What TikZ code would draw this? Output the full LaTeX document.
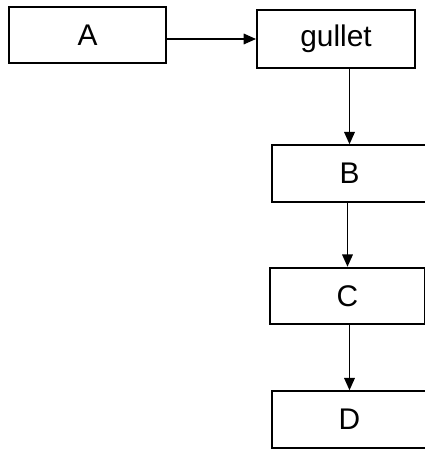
\documentclass[tikz,border=0pt]{standalone}
\usepackage{fontspec}
\setmainfont{Liberation Sans}
\usepackage{tikz}
\usetikzlibrary{arrows.meta}
\tikzset{
  stage/.style={draw, line width=1.1pt, minimum width=3.1cm, minimum height=1.13cm,
    inner sep=0pt, font=\fontsize{17}{19}\selectfont},
  arr/.style={line width=0.9pt, -{Triangle[length=7pt,width=6pt]}}
}

\begin{document}
\begin{tikzpicture}
      \useasboundingbox (0,0) rectangle (8.5,-8.98);
      \node[stage, minimum width=3.14cm] (A) at (1.75,-0.70) {A};
      \node[stage, minimum width=3.16cm, minimum height=1.16cm] (gullet) at (6.72,-0.78) {gullet};
      \node[stage] (B) at (6.99,-3.47) {B};
      \node[stage] (C) at (6.95,-5.92) {C};
      \node[stage] (D) at (6.99,-8.39) {D};
      % connectors
      \draw[arr] (A.east |- gullet.west) -- (gullet.west);
      \draw[arr] (gullet.south -| B.north) -- (B.north);
      \draw[arr] (B.south -| C.north) -- (C.north);
      \draw[arr] (C.south -| D.north) -- (D.north);
    \end{tikzpicture}
\end{document}
